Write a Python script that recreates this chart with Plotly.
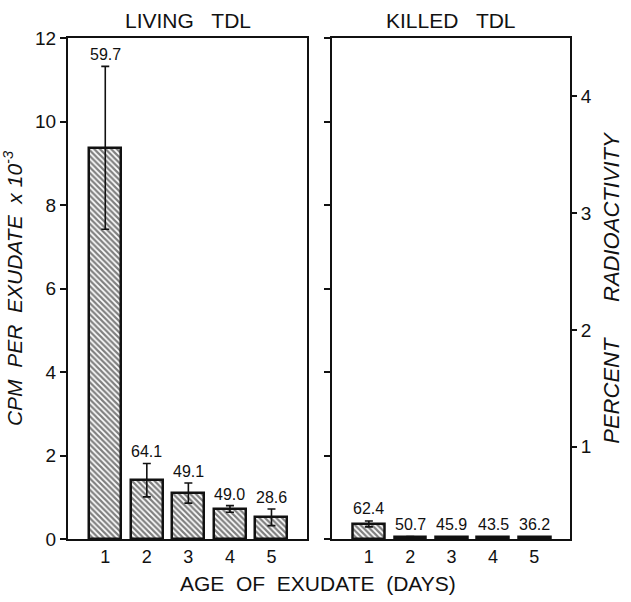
import plotly.graph_objects as go

days = [1, 2, 3, 4, 5]
day_labels = ["1", "2", "3", "4", "5"]

living_cpm = [9.37, 1.41, 1.10, 0.72, 0.52]
living_err = [1.95, 0.40, 0.24, 0.08, 0.20]
living_pct = ["59.7", "64.1", "49.1", "49.0", "28.6"]

killed_cpm = [0.36, 0.06, 0.05, 0.05, 0.05]
killed_err = [0.07, 0.0, 0.0, 0.0, 0.0]
killed_pct = ["62.4", "50.7", "45.9", "43.5", "36.2"]

cpm_ticks = [0, 2, 4, 6, 8, 10, 12]
pct_ticks = [1, 2, 3, 4]

FONT = "Liberation Sans"
INK = "#111111"
SP = "\u00a0"

pattern = dict(shape="\\", size=4, solidity=0.55, fgcolor="#000000", bgcolor="white")

fig = go.Figure()

fig.add_trace(go.Bar(
    x=days, y=living_cpm, width=0.77, xaxis="x", yaxis="y",
    marker=dict(color="white", pattern=pattern, line=dict(color=INK, width=2.5)),
    error_y=dict(type="data", array=living_err, color=INK, thickness=1.6, width=4),
    showlegend=False,
))
fig.add_trace(go.Bar(
    x=days, y=killed_cpm, width=0.77, xaxis="x2", yaxis="y2",
    marker=dict(color="white", pattern=pattern, line=dict(color=INK, width=2.5)),
    error_y=dict(type="data", array=killed_err, color=INK, thickness=1.6, width=4),
    showlegend=False,
))
# invisible trace to activate the right-hand percent axis
fig.add_trace(go.Scatter(x=[days[0]], y=[pct_ticks[0]], xaxis="x2", yaxis="y3",
                         mode="markers", marker=dict(opacity=0), showlegend=False,
                         hoverinfo="skip"))

annotations = []
for d, v, e, t in zip(days, living_cpm, living_err, living_pct):
    annotations.append(dict(x=d, y=v + e, xref="x", yref="y", text=t, showarrow=False,
                            yanchor="bottom", xanchor="center", yshift=1,
                            font=dict(family=FONT, size=16, color=INK)))
for d, v, e, t in zip(days, killed_cpm, killed_err, killed_pct):
    annotations.append(dict(x=d, y=v + e, xref="x2", yref="y2", text=t, showarrow=False,
                            yanchor="bottom", xanchor="center", yshift=2,
                            font=dict(family=FONT, size=16, color=INK)))
annotations.append(dict(x=0.2383, y=1.0, xref="paper", yref="paper",
                        text="LIVING" + SP * 3 + "TDL",
                        showarrow=False, yanchor="bottom", xanchor="center", yshift=4,
                        font=dict(family=FONT, size=21, color=INK)))
annotations.append(dict(x=0.7627, y=1.0, xref="paper", yref="paper",
                        text="KILLED" + SP * 3 + "TDL",
                        showarrow=False, yanchor="bottom", xanchor="center", yshift=4,
                        font=dict(family=FONT, size=21, color=INK)))
annotations.append(dict(x=0.498, y=0, xref="paper", yref="paper",
                        text=(SP * 2).join(["AGE", "OF", "EXUDATE", "(DAYS)"]),
                        showarrow=False, yanchor="middle", xanchor="center", yshift=-44,
                        font=dict(family=FONT, size=21, color=INK)))

common_x = dict(range=[0.103, 5.861], tickvals=days, ticktext=day_labels, ticks="",
                showline=True, linecolor=INK, linewidth=2, mirror=True,
                showgrid=False, zeroline=False,
                tickfont=dict(family=FONT, size=18, color=INK))

fig.update_layout(
    width=631, height=602,
    margin=dict(l=63, r=56, t=38, b=63),
    paper_bgcolor="white", plot_bgcolor="white",
    bargap=0,
    xaxis=dict(domain=[0, 0.4766], anchor="y", **common_x),
    xaxis2=dict(domain=[0.5254, 1.0], anchor="y2", **common_x),
    yaxis=dict(domain=[0, 1], anchor="x", range=[0, 12], tickvals=cpm_ticks,
               ticks="outside", ticklen=6, tickwidth=1.5, tickcolor=INK,
               showline=True, linecolor=INK, linewidth=2, mirror=True,
               showgrid=False, zeroline=False,
               tickfont=dict(family=FONT, size=19, color=INK),
               title=dict(text="<i>CPM" + SP * 2 + "PER" + SP * 2 + "EXUDATE" + SP * 2
                          + "x 10<sup>-3</sup></i>", standoff=8,
                          font=dict(family=FONT, size=21, color=INK))),
    yaxis2=dict(domain=[0, 1], anchor="x2", range=[0, 12], tickvals=cpm_ticks,
                ticks="outside", ticklen=6, tickwidth=1.5, tickcolor=INK,
                showticklabels=False,
                showline=True, linecolor=INK, linewidth=2, mirror=True,
                showgrid=False, zeroline=False),
    yaxis3=dict(overlaying="y2", anchor="x2", side="right", range=[0.21, 4.50],
                tickvals=pct_ticks, ticks="outside", ticklen=6, tickwidth=1.5,
                tickcolor=INK, showline=False, showgrid=False, zeroline=False,
                tickfont=dict(family=FONT, size=19, color=INK),
                title=dict(text="<i>PERCENT" + SP * 6 + "RADIOACTIVITY</i>", standoff=12,
                           font=dict(family=FONT, size=22, color=INK))),
    annotations=annotations,
)

fig.write_html("out.html")
